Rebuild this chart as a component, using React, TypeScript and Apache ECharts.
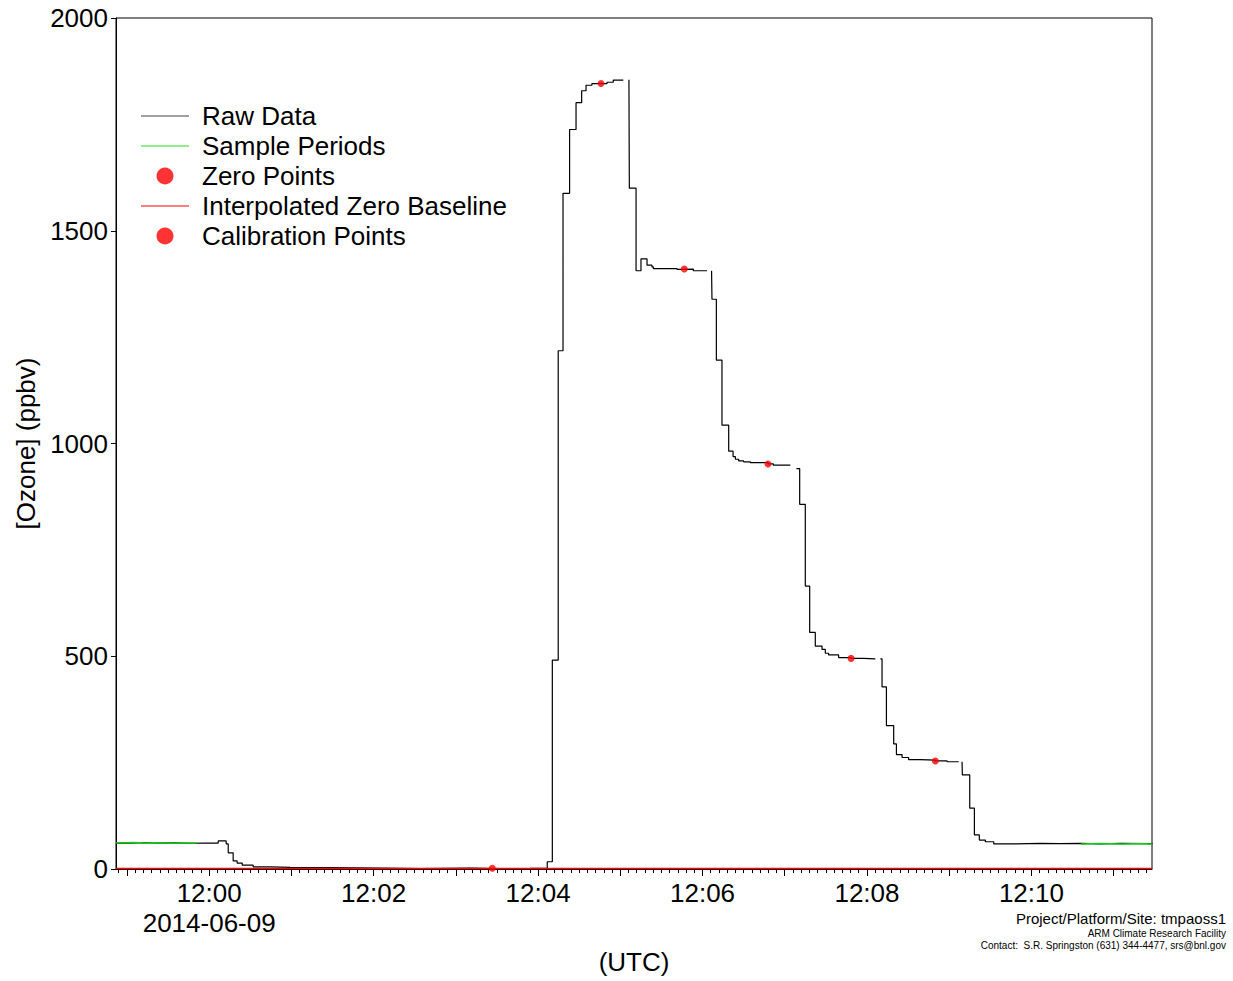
import React, { useEffect, useRef } from "react";
import * as echarts from "echarts";

// Time in seconds relative to 12:00:00 UTC, 2014-06-09
const xMin = -68;
const xMax = 688;

const rawTime = [
  -68, -58, -47, -36, -25, -14, -3, 6.6, 12.4, 13.9, 17.5, 20.4, 24.1, 32.1, 44.5, 59.1, 88.3, 124.8,
  154, 190.5, 212.4, 234.3, 246.7, 250.4, 254.7, 258.2, 263, 267.7, 271.8, 275, 279.3, 290.3, 294.9,
  302.2, 304, 306.3, 306.6, 311.5, 315.1, 319.5, 323.1, 324.1, 341.4, 346.7, 353.3, 363.3, 365, 366.6,
  366.9, 370.1, 374.2, 379.1, 382.3, 384, 386.4, 390, 394.9, 407.8, 411.7, 424.1, 426, 428.5, 430.9,
  435, 438.2, 442.3, 447.2, 449.6, 452, 459.3, 468.4, 477.4, 486.1, 488, 489.8, 491, 494.2, 499.5,
  501.5, 505.6, 510.4, 519, 529.9, 538.5, 546.9, 548, 549.4, 549.6, 555, 558.4, 562, 566.4, 572.5,
  584.7, 606.6, 621.2, 635.8, 650.4, 665, 688.3,
];
const rawValue = [
  61, 62, 61, 61.5, 60.5, 61, 61, 66, 59, 38, 19, 14, 9, 5, 4, 3, 2, 1,
  2, 1, 1.5, 2, 17, 491, 1218, 1588, 1738, 1801, 1829, 1842, 1846, 1849, 1854,
  1854, null, 1855, 1600, 1406, 1434, 1419, 1415, 1411, 1409, 1410, 1406, 1406, null, 1406,
  1339, 1196, 1043, 982, 969, 963, 959, 957, 955, 952, 949, 949, null, 941, 857,
  665, 556, 524, 516, 507, 503, 497, 495, 494, 494, null, 494, 428, 337, 294,
  269, 262, 257, 256, 254, 252, 252, null, 252, 221, 143, 80, 68, 64, 59,
  60, 59.5, 60, 59, 60, 59.5, 59,
];

const sampleTime = [-68, -62, -55, -47, -40, -32, -24, -16, -9, null, 636, 643, 650, 658, 666, 674, 681, 688];
const sampleValue = [61, 61.5, 62, 61, 61.5, 61, 60.5, 61, 61, null, 59, 59.5, 60, 59.5, 59, 59.5, 59.5, 59];

const zeroPointTime = [206.6];
const zeroPointValue = [1.6];

const baselineTime = [-68, 688];
const baselineValue = [1, 1];

const calTime = [285.9, 346.7, 407.8, 468.4, 529.9];
const calValue = [1846, 1410, 952, 495, 254];

const xLabelSeconds = [0, 120, 240, 360, 480, 600];
const xLabelText = ["12:00\n2014-06-09", "12:02", "12:04", "12:06", "12:08", "12:10"];
const yTickValues = [0, 500, 1000, 1500, 2000];

const FONT = "'Liberation Sans', Arial, Helvetica, sans-serif";

function pairs(t: (number | null)[], v: (number | null)[]) {
  return t.map((ti, i) => (ti === null || v[i] === null ? ["-", "-"] : [ti, v[i]]));
}

export default function App() {
  const ref = useRef<HTMLDivElement>(null);

  useEffect(() => {
    document.body.style.margin = "0";
    const chart = echarts.init(ref.current!, null, { renderer: "svg" });

    const minorTicks: number[] = [];
    for (let s = -66; s <= 684; s += 6) minorTicks.push(s);
    const majorTicks: number[] = [];
    for (let s = -60; s <= 660; s += 60) majorTicks.push(s);

    const linePath = "path://M0,0L48,0L48,1L0,1Z";

    chart.setOption({
      animation: false,
      backgroundColor: "#fff",
      textStyle: { fontFamily: FONT },
      grid: {
        left: 116,
        top: 18,
        width: 1036,
        height: 851,
        show: true,
        borderColor: "#000",
        borderWidth: 1,
        backgroundColor: "transparent",
      },
      legend: {
        orient: "vertical",
        left: 141,
        top: 103,
        padding: 0,
        itemWidth: 48,
        itemHeight: 17,
        itemGap: 4,
        selectedMode: false,
        textStyle: { fontSize: 26, lineHeight: 26, color: "#000", fontFamily: FONT, padding: [0, 0, 0, 8] },
        data: [
          { name: "Raw Data", icon: linePath, itemStyle: { color: "#444", borderWidth: 0 } },
          { name: "Sample Periods", icon: linePath, itemStyle: { color: "#22dd22", borderWidth: 0 } },
          { name: "Zero Points", icon: "circle", itemStyle: { color: "#ff0000", borderWidth: 0 } },
          { name: "Interpolated Zero Baseline", icon: linePath, itemStyle: { color: "#ff0000", borderWidth: 0 } },
          { name: "Calibration Points", icon: "circle", itemStyle: { color: "#ff0000", borderWidth: 0 } },
        ],
      },
      xAxis: [
        {
          type: "value",
          min: xMin,
          max: xMax,
          position: "bottom",
          axisLine: { show: true, onZero: false, lineStyle: { color: "#000", width: 1 } },
          axisTick: { show: true, inside: false, length: 4, customValues: minorTicks, lineStyle: { color: "#000", width: 1 } },
          axisLabel: { show: false },
          splitLine: { show: false },
          name: "(UTC)",
          nameLocation: "middle",
          nameGap: 80,
          nameTextStyle: { fontSize: 26, color: "#000", fontFamily: FONT },
        },
        {
          type: "value",
          min: xMin,
          max: xMax,
          position: "bottom",
          axisLine: { show: false, onZero: false },
          axisTick: { show: true, inside: false, length: 7, customValues: majorTicks, lineStyle: { color: "#000", width: 1 } },
          axisLabel: {
            show: true,
            customValues: xLabelSeconds,
            margin: 9,
            fontSize: 26,
            lineHeight: 30,
            color: "#000",
            fontFamily: FONT,
            formatter: (v: number) => {
              const i = xLabelSeconds.indexOf(Math.round(v));
              return i >= 0 ? xLabelText[i] : "";
            },
          },
          splitLine: { show: false },
        },
      ],
      yAxis: {
        type: "value",
        min: 0,
        max: 2000,
        interval: 500,
        axisLine: { show: true, onZero: false, lineStyle: { color: "#000", width: 1 } },
        axisTick: { show: true, inside: false, length: 5, customValues: yTickValues, lineStyle: { color: "#000", width: 1 } },
        axisLabel: {
          margin: 8,
          fontSize: 26,
          color: "#000",
          fontFamily: FONT,
          formatter: (v: number) => String(v),
        },
        splitLine: { show: false },
        name: "[Ozone] (ppbv)",
        nameLocation: "middle",
        nameGap: 72,
        nameRotate: 90,
        nameTextStyle: { fontSize: 26, color: "#000", fontFamily: FONT },
      },
      series: [
        {
          name: "Raw Data",
          type: "line",
          xAxisIndex: 0,
          step: "end",
          data: pairs(rawTime, rawValue),
          showSymbol: false,
          symbol: "none",
          connectNulls: false,
          lineStyle: { color: "#000", width: 1.2 },
          itemStyle: { color: "#000" },
          z: 2,
        },
        {
          name: "Sample Periods",
          type: "line",
          xAxisIndex: 0,
          data: pairs(sampleTime, sampleValue),
          showSymbol: false,
          symbol: "none",
          connectNulls: false,
          lineStyle: { color: "#11cc11", width: 1.5 },
          itemStyle: { color: "#11cc11" },
          z: 3,
        },
        {
          name: "Zero Points",
          type: "scatter",
          xAxisIndex: 0,
          data: pairs(zeroPointTime, zeroPointValue),
          symbol: "circle",
          symbolSize: 7,
          itemStyle: { color: "#ff0000" },
          z: 6,
        },
        {
          name: "Interpolated Zero Baseline",
          type: "line",
          xAxisIndex: 0,
          data: pairs(baselineTime, baselineValue),
          showSymbol: false,
          symbol: "none",
          lineStyle: { color: "#ff0000", width: 1.5 },
          itemStyle: { color: "#ff0000" },
          z: 4,
        },
        {
          name: "Calibration Points",
          type: "scatter",
          xAxisIndex: 0,
          data: pairs(calTime, calValue),
          symbol: "circle",
          symbolSize: 7,
          itemStyle: { color: "#ff0000" },
          z: 6,
        },
      ],
      graphic: [
        {
          type: "text",
          x: 1226,
          y: 918,
          style: {
            text: "Project/Platform/Site: tmpaoss1",
            font: "15px " + FONT,
            fill: "#000",
            textAlign: "right",
            align: "right",
            textVerticalAlign: "middle",
            verticalAlign: "middle",
          },
        },
        {
          type: "text",
          x: 1226,
          y: 933,
          style: {
            text: "ARM Climate Research Facility",
            font: "10px " + FONT,
            fill: "#000",
            textAlign: "right",
            align: "right",
            textVerticalAlign: "middle",
            verticalAlign: "middle",
          },
        },
        {
          type: "text",
          x: 1226,
          y: 945,
          style: {
            text: "Contact:  S.R. Springston (631) 344-4477, srs@bnl.gov",
            font: "10px " + FONT,
            fill: "#000",
            textAlign: "right",
            align: "right",
            textVerticalAlign: "middle",
            verticalAlign: "middle",
          },
        },
      ],
    });

    return () => {
      chart.dispose();
    };
  }, []);

  return (
    <div
      ref={ref}
      style={{ position: "absolute", left: 0, top: 0, width: "1233px", height: "981px", background: "#fff" }}
    />
  );
}
